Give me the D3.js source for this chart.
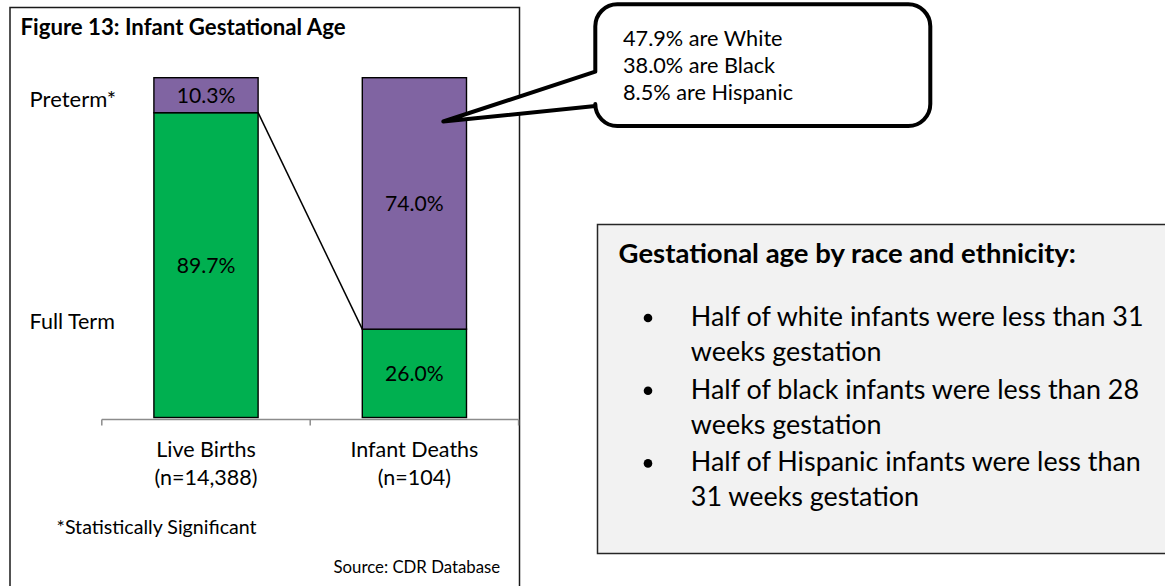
<!DOCTYPE html>
<html>
<head>
<meta charset="utf-8">
<script src="https://cdn.jsdelivr.net/npm/d3@7"></script>
<style>
  html, body { margin: 0; padding: 0; background: #fff; }
  svg { display: block; font-family: Lato, "Open Sans", sans-serif; }
</style>
</head>
<body>
<svg id="chart" width="1165" height="586"></svg>
<script>
// ---- data ----
const categories = ["Live Births", "Infant Deaths"];
const categorySubLabels = ["(n=14,388)", "(n=104)"];
const seriesNames = ["Full Term", "Preterm*"];
const fullTermValues = [89.7, 26.0];
const pretermValues = [10.3, 74.0];
const chartTitle = "Figure 13: Infant Gestational Age";
const footnote = "*Statistically Significant";
const sourceNote = "Source: CDR Database";
const calloutLines = ["47.9% are White", "38.0% are Black", "8.5% are Hispanic"];
const boxHeading = "Gestational age by race and ethnicity:";
const bulletItems = [
  ["Half of white infants were less than 31", "weeks gestation"],
  ["Half of black infants were less than 28", "weeks gestation"],
  ["Half of Hispanic infants were less than", "31 weeks gestation"]
];

// ---- styles ----
const PURPLE = "#8064a2", GREEN = "#00b050";
const LABEL_SIZE = 21.5;

const svg = d3.select("#chart");

// outer frame of figure
svg.append("rect").attr("x", 10).attr("y", 7.5).attr("width", 509.5).attr("height", 600)
  .attr("fill", "none").attr("stroke", "#1a1a1a").attr("stroke-width", 1.5);

svg.append("text").attr("x", 20.5).attr("y", 34.5)
  .attr("font-weight", "bold").attr("font-size", 22.2).attr("fill", "#000")
  .text(chartTitle);

// scales
const x = d3.scaleBand().domain(categories).range([101.8, 518.6])
  .paddingInner(0.5).paddingOuter(0.25);
const y = d3.scaleLinear().domain([0, 100]).range([417.5, 77.7]);

// stacked data
const rows = categories.map((c, i) => ({ cat: c, ft: fullTermValues[i], pt: pretermValues[i] }));
const stack = d3.stack().keys(["ft", "pt"])(rows);
const colors = { ft: GREEN, pt: PURPLE };

// axis line with boundary ticks
const axisY = 419.5;
const [r0, r1] = x.range();
const bounds = [r0, ...categories.slice(1).map(c => x(c) - x.step() * x.paddingInner() / 2), r1];
svg.append("line").attr("x1", r0).attr("x2", r1).attr("y1", axisY).attr("y2", axisY)
  .attr("stroke", "#8c8c8c").attr("stroke-width", 1.5);
svg.selectAll("line.tick").data(bounds).join("line").attr("class", "tick")
  .attr("x1", d => d).attr("x2", d => d).attr("y1", axisY).attr("y2", axisY + 6)
  .attr("stroke", "#8c8c8c").attr("stroke-width", 1.5);

// bars
stack.forEach(layer => {
  svg.append("g").selectAll("rect").data(layer).join("rect")
    .attr("x", d => x(d.data.cat))
    .attr("width", x.bandwidth())
    .attr("y", d => y(d[1]))
    .attr("height", d => y(d[0]) - y(d[1]))
    .attr("fill", colors[layer.key])
    .attr("stroke", "#000").attr("stroke-width", 1.4);
  svg.append("g").selectAll("text").data(layer).join("text")
    .attr("x", d => x(d.data.cat) + x.bandwidth() / 2)
    .attr("y", d => (y(d[0]) + y(d[1])) / 2)
    .attr("dy", "0.36em")
    .attr("text-anchor", "middle").attr("font-size", 21.1).attr("fill", "#000")
    .text(d => (d[1] - d[0]).toFixed(1) + "%");
});

// connector line between the split points
svg.append("line")
  .attr("x1", x(categories[0]) + x.bandwidth()).attr("y1", y(fullTermValues[0]))
  .attr("x2", x(categories[1])).attr("y2", y(fullTermValues[1]))
  .attr("stroke", "#000").attr("stroke-width", 1.5);

// series labels at left
svg.append("text").attr("x", 29.6).attr("y", 106.5).attr("font-size", 22).text(seriesNames[1]);
svg.append("text").attr("x", 29.6).attr("y", 328.8).attr("font-size", LABEL_SIZE).text(seriesNames[0]);

// category labels
const catG = svg.append("g").selectAll("text").data(categories).join("text")
  .attr("text-anchor", "middle").attr("font-size", LABEL_SIZE);
catG.append("tspan").attr("x", d => x(d) + x.bandwidth() / 2).attr("y", 456.5).text(d => d);
catG.append("tspan").attr("x", d => x(d) + x.bandwidth() / 2).attr("y", 485).text((d, i) => categorySubLabels[i]);

svg.append("text").attr("x", 56.6).attr("y", 534.3).attr("font-size", 19.6).text(footnote);
svg.append("text").attr("x", 500.2).attr("y", 572.7).attr("text-anchor", "end").attr("font-size", 16.8).text(sourceNote);

// callout
const cx0 = 595.3, cy0 = 4.3, cx1 = 930.3, cy1 = 126, rr = 22;
const calloutPath = [
  `M${cx0 + rr},${cy0}`, `H${cx1 - rr}`, `A${rr},${rr} 0 0 1 ${cx1},${cy0 + rr}`,
  `V${cy1 - rr}`, `A${rr},${rr} 0 0 1 ${cx1 - rr},${cy1}`,
  `H${cx0 + rr}`, `A${rr},${rr} 0 0 1 ${cx0},${cy1 - rr}`,
  `V106`, `L443.3,121.5`, `L${cx0},71.7`, `V${cy0 + rr}`,
  `A${rr},${rr} 0 0 1 ${cx0 + rr},${cy0}`, "Z"
].join(" ");
svg.append("path").attr("d", calloutPath).attr("fill", "#fff")
  .attr("stroke", "#000").attr("stroke-width", 4).attr("stroke-linejoin", "round");
svg.append("g").selectAll("text").data(calloutLines).join("text")
  .attr("x", 623).attr("y", (d, i) => 46 + i * 27).attr("font-size", 21.7).text(d => d);

// right info box
svg.append("rect").attr("x", 597.5).attr("y", 224.5).attr("width", 600).attr("height", 329)
  .attr("fill", "#f2f2f2").attr("stroke", "#262626").attr("stroke-width", 1.5);
svg.append("text").attr("x", 618.6).attr("y", 262.7).attr("font-weight", "bold")
  .attr("font-size", 27.5).text(boxHeading);
bulletItems.forEach((lines, i) => {
  const base = 326 + i * 72.7;
  svg.append("circle").attr("cx", 648).attr("cy", base - 8).attr("r", 4.3).attr("fill", "#000");
  lines.forEach((ln, j) => {
    svg.append("text").attr("x", 690.8).attr("y", base + j * 35).attr("font-size", 26.9).text(ln);
  });
});
</script>
</body>
</html>
